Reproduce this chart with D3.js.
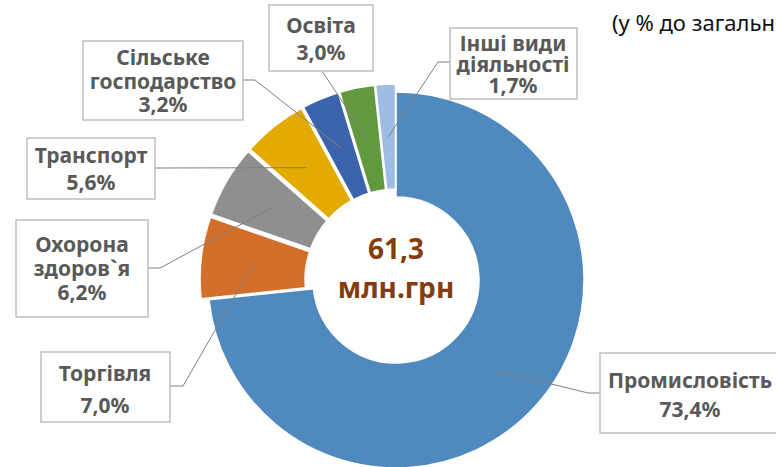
<!DOCTYPE html>
<html>
<head>
<meta charset="utf-8">
<script src="https://cdn.jsdelivr.net/npm/d3@7/dist/d3.min.js"></script>
<style>
  body { margin: 0; background: #fff; overflow: hidden; }
  svg { display: block; font-family: "Noto Sans", "DejaVu Sans", sans-serif; }
</style>
</head>
<body>
<script>
// data
var categories = ["Промисловість", "Торгівля", "Охорона здоров`я", "Транспорт",
                  "Сільське господарство", "Освіта", "Інші види діяльності"];
var shares = [73.4, 7.0, 6.2, 5.6, 3.2, 3.0, 1.7];
var labelLines = [
    ["Промисловість", "73,4%"],
    ["Торгівля", "7,0%"],
    ["Охорона", "здоров`я", "6,2%"],
    ["Транспорт", "5,6%"],
    ["Сільське", "господарство", "3,2%"],
    ["Освіта", "3,0%"],
    ["Інші види", "діяльності", "1,7%"]
];
var totalLines = ["61,3", "млн.грн"];
var subtitle = "(у % до загального обсягу)";

var colors = ["#4f89bd", "#d46e2b", "#8f8f8f", "#e3aa00", "#3b64ad", "#62993e", "#9dbde2"];

// label box layout (box, text center, line centres, elbow, anchor on box)
var layout = [
    {x: 600, y: 353, w: 182, h: 80, cx: 690, lines: [380, 409], elbow: [588, 393], anchor: [600, 393]},
    {x: 41, y: 352, w: 129, h: 70, cx: 105, lines: [373, 405], elbow: [183, 386], anchor: [170, 386]},
    {x: 16, y: 220, w: 132, h: 97, cx: 82, lines: [244, 268, 292], elbow: [160, 268], anchor: [148, 268]},
    {x: 27, y: 138, w: 128, h: 61, cx: 91, lines: [155, 182], elbow: null, anchor: [155, 168]},
    {x: 83, y: 41, w: 160, h: 79, cx: 163, lines: [57, 81, 104], elbow: [255, 80], anchor: [243, 80]},
    {x: 269, y: 5, w: 104, h: 66, cx: 321, lines: [25, 52], elbow: null, anchor: [322, 71]},
    {x: 450, y: 28, w: 127, h: 71, cx: 513, lines: [43, 64, 85], elbow: [438, 62], anchor: [450, 62]}
];

var width = 776,
        height = 467;
var cx = 396, cy = 280;
var outerR = 188, innerR = 83;
var explode = 8;
var fs = 21;

var svg = d3.select("body")
        .append("svg")
        .attr("width", width)
        .attr("height", height);

var pie = d3.pie()
        .sort(null)
        .value(function (d) {
            return d;
        });
var arc = d3.arc()
        .innerRadius(innerR)
        .outerRadius(outerR);

var arcs = pie(shares);

// offset of each slice (all except the big one are pulled out a bit)
function offset(d, i) {
    if (i === 0)
        return [0, 0];
    var mid = (d.startAngle + d.endAngle) / 2;
    return [explode * Math.sin(mid), -explode * Math.cos(mid)];
}

var g = svg.append("g")
        .attr("transform", "translate(" + cx + "," + cy + ")");

g.selectAll("path")
        .data(arcs)
        .enter()
        .append("path")
        .attr("d", arc)
        .attr("transform", function (d, i) {
            var o = offset(d, i);
            return "translate(" + o[0] + "," + o[1] + ")";
        })
        .attr("fill", function (d, i) {
            return colors[i];
        })
        .attr("stroke", "#fff")
        .attr("stroke-width", 1.5);

// center text
svg.append("g")
        .selectAll("text")
        .data(totalLines)
        .enter()
        .append("text")
        .attr("x", cx)
        .attr("y", function (d, i) {
            return [249, 288][i];
        })
        .attr("dy", "0.36em")
        .attr("text-anchor", "middle")
        .attr("font-size", 28)
        .attr("font-weight", "bold")
        .attr("fill", "#843c0c")
        .text(function (d) {
            return d;
        });

// leader lines
svg.append("g")
        .selectAll("polyline")
        .data(arcs)
        .enter()
        .append("polyline")
        .attr("points", function (d, i) {
            var c = arc.centroid(d), o = offset(d, i);
            var p = [[cx + c[0] + o[0], cy + c[1] + o[1]]];
            if (layout[i].elbow)
                p.push(layout[i].elbow);
            p.push(layout[i].anchor);
            return p.map(function (q) {
                return q.join(",");
            }).join(" ");
        })
        .attr("fill", "none")
        .attr("stroke", "#808080")
        .attr("stroke-width", 1);

// label boxes
var lab = svg.append("g")
        .selectAll("g")
        .data(categories)
        .enter()
        .append("g");
lab.append("rect")
        .attr("x", function (d, i) {
            return layout[i].x;
        })
        .attr("y", function (d, i) {
            return layout[i].y;
        })
        .attr("width", function (d, i) {
            return layout[i].w;
        })
        .attr("height", function (d, i) {
            return layout[i].h;
        })
        .attr("fill", "#fff")
        .attr("stroke", "#bfbfbf")
        .attr("stroke-width", 1.5);
lab.each(function (d, i) {
    d3.select(this)
            .selectAll("text")
            .data(labelLines[i])
            .enter()
            .append("text")
            .attr("x", layout[i].cx)
            .attr("y", function (t, j) {
                return layout[i].lines[j];
            })
            .attr("dy", "0.36em")
            .attr("text-anchor", "middle")
            .attr("font-size", fs)
            .attr("font-weight", "bold")
            .attr("fill", "#595959")
            .text(function (t) {
                return t;
            });
});

// subtitle runs off the right edge, as in the original
svg.append("text")
        .attr("x", 612)
        .attr("y", 23)
        .attr("dy", "0.36em")
        .attr("font-size", 22)
        .attr("fill", "#111")
        .text(subtitle);
</script>
</body>
</html>
